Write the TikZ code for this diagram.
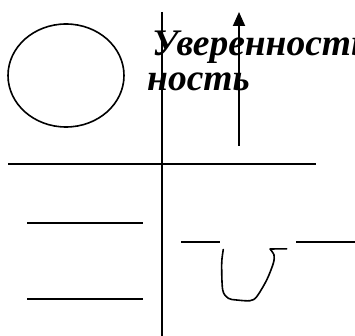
\documentclass[tikz,border=0pt]{standalone}
\usepackage{fontspec}
\setmainfont{Liberation Serif}
\usetikzlibrary{arrows.meta}
\begin{document}
\begin{tikzpicture}[x=1pt,y=-1pt,
  ln/.style={line width=1.9pt},
  thin ln/.style={line width=1.6pt},
  bigtxt/.style={font=\bfseries\itshape\fontsize{37.5}{40}\selectfont, inner sep=0pt}]
\useasboundingbox (0,0) rectangle (355,336);
\clip (0,0) rectangle (355,336);
% text
\node[bigtxt, anchor=base west] (t1) at (152,56) {Уверенность};
\node[bigtxt, anchor=base west] (t2) at (147,91) {ность};
% circle
\draw[thin ln] (66,75.5) ellipse [x radius=58, y radius=51.5];
% axes
\coordinate (vtop) at (162,12);
\coordinate (vbot) at (162,336);
\coordinate (hl) at (8,164);
\coordinate (hr) at (316,164);
\draw[ln] (vtop) -- (vbot);
\draw[ln] (hl) -- (hr);
% arrow
\coordinate (atail) at (239,146);
\coordinate (atip) at (239,12);
\draw[ln, -{Triangle[width=12pt,length=14pt]}] (atail) -- (atip);
% left lines
\coordinate (l1a) at (27,223); \coordinate (l1b) at (143,223);
\coordinate (l2a) at (27,299); \coordinate (l2b) at (143,299);
\draw[ln] (l1a) -- (l1b);
\draw[ln] (l2a) -- (l2b);
% right short lines
\coordinate (r1a) at (181,241.7); \coordinate (r1b) at (220,241.7);
\coordinate (r2a) at (296,241.7); \coordinate (r2b) at (355,241.7);
\draw[ln] (r1a) -- (r1b);
\draw[ln] (r2a) -- (r2b);
% U shape
\draw[thin ln, line join=round, line cap=round] plot[smooth, tension=0.5] coordinates {
  (223.3,249.5) (221.7,263.3) (222.7,290) (228.3,298.3) (236.7,300)
  (250,300.7) (256.7,296.7) (266.7,280) (273.3,263.3) (274,255) (270,249)}
  -- (286.7,248.8);
\end{tikzpicture}
\end{document}
